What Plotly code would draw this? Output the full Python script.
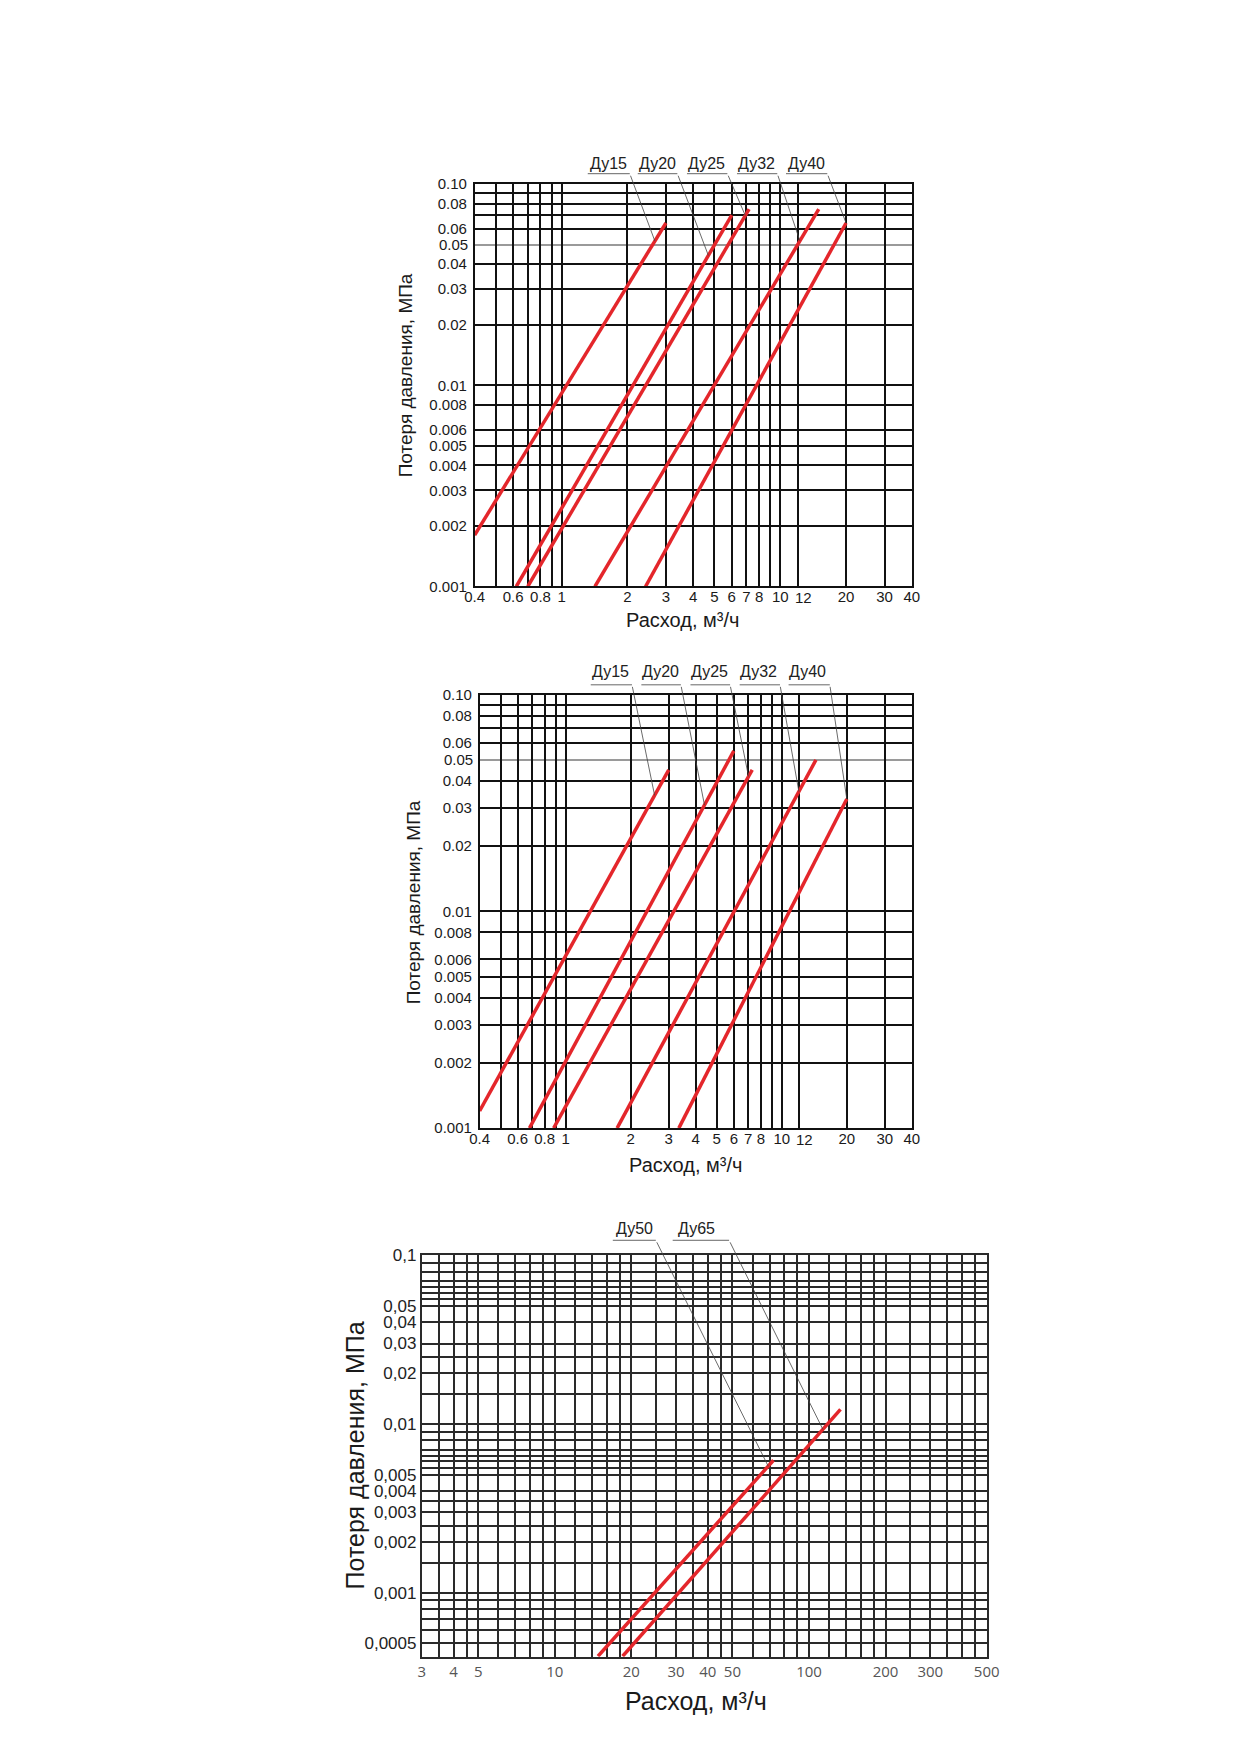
import math
import numpy as np
import plotly.graph_objects as go

W, H = 1239, 1752
FW, FH = 1223, 1736
# page placement of the figure as it shows up in the photograph (offset, scale)
AX, SX = 16.5, 0.983
AY, SY = 15.2, 0.989

# ---------------- upper chart (Ду15..Ду40, first series) ----------------
top_names = ["Ду15", "Ду20", "Ду25", "Ду32", "Ду40"]
top_q_du15 = [0.4, 3.0]
top_dp_du15 = [0.0018, 0.064]
top_q_du20 = [0.62, 6.0]
top_dp_du20 = [0.001, 0.070]
top_q_du25 = [0.70, 7.2]
top_dp_du25 = [0.001, 0.075]
top_q_du32 = [1.42, 15.0]
top_dp_du32 = [0.001, 0.075]
top_q_du40 = [2.42, 20.0]
top_dp_du40 = [0.001, 0.064]
top_leader_q = [2.67, 4.69, 6.92, 12.3, 20.0]

# ---------------- middle chart ----------------
mid_names = ["Ду15", "Ду20", "Ду25", "Ду32", "Ду40"]
mid_q_du15 = [0.4, 3.0]
mid_dp_du15 = [0.0012, 0.045]
mid_q_du20 = [0.68, 6.0]
mid_dp_du20 = [0.001, 0.055]
mid_q_du25 = [0.88, 7.3]
mid_dp_du25 = [0.001, 0.045]
mid_q_du32 = [1.73, 14.4]
mid_dp_du32 = [0.001, 0.050]
mid_q_du40 = [3.34, 20.0]
mid_dp_du40 = [0.001, 0.033]
mid_leader_q = [2.58, 4.39, 7.02, 12.0, 20.0]

# ---------------- lower chart (Ду50, Ду65) ----------------
low_names = ["Ду50", "Ду65"]
low_q_du50 = [14.8, 72.5]
low_dp_du50 = [0.00042, 0.0061]
low_q_du65 = [18.5, 133.0]
low_dp_du65 = [0.00042, 0.0122]
low_leader_q = [69.1, 113.4]

# ---------------- grids / tick labels ----------------
ab_x_grid = [0.4, 0.5, 0.6, 0.7, 0.8, 0.9, 1, 2, 3, 4, 5, 6, 7, 8, 9, 10, 12, 20, 30, 40]
ab_x_text = ["0.4", "", "0.6", "", "0.8", "", "1", "2", "3", "4", "5", "6", "7", "8", "",
             "10", "", "20", "30", "40"]
# "12" sits too close to "10"; it is written separately, nudged right as in the original
ab_x_extra = [12]
ab_x_extra_text = ["12"]
# 0.05 has its own (lighter) grid line
ab_y_grid = [0.001, 0.002, 0.003, 0.004, 0.005, 0.006, 0.008, 0.01, 0.02, 0.03, 0.04,
             0.06, 0.07, 0.08, 0.09, 0.10]
ab_y_text = ["0.001", "0.002", "0.003", "0.004", "0.005", "0.006", "0.008", "0.01", "0.02",
             "0.03", "0.04", "0.06", "", "0.08", "", "0.10"]
ab_y_light = [0.05]
ab_y_light_text = ["0.05"]

c_x_grid = [3, 3.5, 4, 4.5, 5, 6, 7, 8, 9, 10, 12, 14, 16, 18, 20, 25, 30, 35, 40, 45, 50,
            60, 70, 80, 90, 100, 120, 140, 160, 180, 200, 250, 300, 350, 400, 450, 500]
c_x_labels = {3: "3", 4: "4", 5: "5", 10: "10", 20: "20", 30: "30", 40: "40", 50: "50",
              100: "100", 200: "200", 300: "300", 500: "500"}
c_y_grid = [0.0005, 0.0006, 0.0007, 0.0008, 0.0009, 0.001, 0.0015, 0.002, 0.0025, 0.003,
            0.0035, 0.004, 0.005, 0.0055, 0.006, 0.0065, 0.007, 0.008, 0.009, 0.01, 0.015,
            0.02, 0.025, 0.03, 0.04, 0.05, 0.055, 0.06, 0.065, 0.07, 0.08, 0.09, 0.1]
c_y_labels = {0.0005: "0,0005", 0.001: "0,001", 0.002: "0,002", 0.003: "0,003",
              0.004: "0,004", 0.005: "0,005", 0.01: "0,01", 0.02: "0,02", 0.03: "0,03",
              0.04: "0,04", 0.05: "0,05", 0.1: "0,1"}

RED = "#e4262b"
FONT = "Liberation Sans, Arial, sans-serif"

# plot boxes in page pixels: left, right, top, bottom
boxes = {
    "a": (474, 912, 182, 584),
    "b": (479, 912, 692, 1125),
    "c": (421, 987, 1252, 1653),
}
ranges = {
    "a": ([math.log10(0.4), math.log10(40)], [-3, -1]),
    "b": ([math.log10(0.4), math.log10(40)], [-3, -1]),
    "c": ([math.log10(3), math.log10(500)], [-3.38, -1]),
}
axis_ids = {"a": ("x", "y"), "b": ("x2", "y2"), "c": ("x3", "y3")}


def pxx(px):
    return (px - AX) / SX / FW


def pxy(py):
    return 1 - (py - AY) / SY / FH


fig = go.Figure()


def add_series(key, qs, dps, width):
    xa, ya = axis_ids[key]
    for q, dp in zip(qs, dps):
        fig.add_trace(go.Scatter(x=q, y=dp, mode="lines", xaxis=xa, yaxis=ya,
                                 line=dict(color=RED, width=width), hoverinfo="skip",
                                 showlegend=False))


top_q = [top_q_du15, top_q_du20, top_q_du25, top_q_du32, top_q_du40]
top_dp = [top_dp_du15, top_dp_du20, top_dp_du25, top_dp_du32, top_dp_du40]
mid_q = [mid_q_du15, mid_q_du20, mid_q_du25, mid_q_du32, mid_q_du40]
mid_dp = [mid_dp_du15, mid_dp_du20, mid_dp_du25, mid_dp_du32, mid_dp_du40]
low_q = [low_q_du50, low_q_du65]
low_dp = [low_dp_du50, low_dp_du65]

add_series("a", top_q, top_dp, 3.5)
add_series("b", mid_q, mid_dp, 3.5)
add_series("c", low_q, low_dp, 3.5)


def px_to_log(key, px, py):
    # page pixel -> axis (log10) coordinates, used for leader tails only
    l, r, t, b = boxes[key]
    (x0, x1), (y0, y1) = ranges[key]
    return x0 + (px - l) / (r - l) * (x1 - x0), y0 + (b - py) / (b - t) * (y1 - y0)


def add_labels(key, names, qs, dps, leader_q, text_x, text_y, ul_x0, ul_x1, ul_y, size):
    xa, ya = axis_ids[key]
    for i, name in enumerate(names):
        fig.add_annotation(text=name, x=pxx(text_x[i]), y=pxy(text_y[i]), xref="paper",
                           yref="paper", showarrow=False, xanchor="center", yanchor="middle",
                           font=dict(family=FONT, size=size, color="#222"))
        fig.add_shape(type="line", xref="paper", yref="paper", x0=pxx(ul_x0[i]),
                      x1=pxx(ul_x1[i]), y0=pxy(ul_y), y1=pxy(ul_y),
                      line=dict(color="#555", width=0.9))
        # point of the leader on the curve (interpolated in log space)
        lq = math.log10(leader_q[i])
        ldp = np.interp(lq, np.log10(qs[i]), np.log10(dps[i]))
        tx, ty = px_to_log(key, ul_x1[i], ul_y)
        fig.add_annotation(text=" ", x=lq, y=float(ldp), xref=xa, yref=ya, ax=tx, ay=ty,
                           axref=xa, ayref=ya, showarrow=True, arrowhead=0, arrowwidth=0.8,
                           arrowcolor="#444", standoff=0, font=dict(size=1))


add_labels("a", top_names, top_q, top_dp, top_leader_q,
           [608, 657.4, 706.4, 756.5, 806.6], [162] * 5,
           [587.3, 637.4, 686.7, 736.8, 785.9], [629.4, 677.1, 727.2, 777.2, 827.3], 171.7, 16)
add_labels("b", mid_names, mid_q, mid_dp, mid_leader_q,
           [610.3, 659.9, 709.2, 758.1, 807.4], [668.5] * 5,
           [590.3, 641.0, 690.2, 739.5, 788.5], [631.6, 680.6, 729.9, 779.9, 829.8], 682.2, 16)
add_labels("c", low_names, low_q, low_dp, low_leader_q,
           [633.7, 696.0], [1225.5] * 2,
           [612.4, 672.4], [655.5, 728.9], 1237, 16)


def axis(key, horizontal, vals, text, font, gridcolor, gridwidth, linecolor, linewidth,
         standoff=0):
    l, r, t, b = boxes[key]
    xa, ya = axis_ids[key]
    if horizontal:
        dom = [pxx(l), pxx(r)]
        rng = ranges[key][0]
        anchor = ya
    else:
        dom = [pxy(b), pxy(t)]
        rng = ranges[key][1]
        anchor = xa
    return dict(type="log", domain=dom, range=rng, anchor=anchor, tickmode="array",
                tickvals=vals, ticktext=text, showgrid=True, gridcolor=gridcolor,
                gridwidth=gridwidth, showline=True, mirror=True, linecolor=linecolor,
                linewidth=linewidth, ticks="", tickfont=font, zeroline=False,
                tickangle=0, ticklabelstandoff=standoff, fixedrange=True)


f_ab = dict(family=FONT, size=15, color="#1a1a1a")
f_cx = dict(family="Open Sans, sans-serif", size=15, color="#555")
f_cy = dict(family="Liberation Sans Narrow, Liberation Sans, sans-serif", size=17,
            color="#222")

c_x_text = [c_x_labels.get(v, "") for v in c_x_grid]
c_y_text = [c_y_labels.get(v, "") for v in c_y_grid]

ya1 = axis("a", False, ab_y_grid, ab_y_text, f_ab, "#111", 1.6, "#111", 1.6, 3)
ya2 = axis("b", False, ab_y_grid, ab_y_text, f_ab, "#111", 1.6, "#111", 1.6, 3)
for ya in (ya1, ya2):
    ya["minor"] = dict(tickmode="array", tickvals=ab_y_light, showgrid=True,
                       gridcolor="#9a9a9a", gridwidth=1.6, ticks="")

fig.update_layout(
    width=FW, height=FH, margin=dict(l=0, r=0, t=0, b=0),
    paper_bgcolor="white", plot_bgcolor="white", showlegend=False,
    xaxis=axis("a", True, ab_x_grid, ab_x_text, f_ab, "#111", 1.6, "#111", 1.6, -4),
    yaxis=ya1,
    xaxis2=axis("b", True, ab_x_grid, ab_x_text, f_ab, "#111", 1.6, "#111", 1.6, -4),
    yaxis2=ya2,
    xaxis3=axis("c", True, c_x_grid, c_x_text, f_cx, "#2a2a2a", 1.5, "#2a2a2a", 1.8),
    yaxis3=axis("c", False, c_y_grid, c_y_text, f_cy, "#2a2a2a", 1.5, "#2a2a2a", 1.8),
)

for xa, ya in [("x", "y"), ("x2", "y2")]:
    # label of the lighter 0.05 line (a minor grid line carries no label)
    for v, t in zip(ab_y_light, ab_y_light_text):
        fig.add_annotation(text=t, xref=xa + " domain", yref=ya, x=0, y=math.log10(v),
                           xanchor="right", yanchor="middle", xshift=-5, showarrow=False,
                           font=f_ab)
    # the "12" flow label, shifted right of its line so it clears "10"
    for v, t in zip(ab_x_extra, ab_x_extra_text):
        fig.add_annotation(text=t, xref=xa, yref=ya + " domain", x=math.log10(v), y=0,
                           xanchor="center", yanchor="middle", xshift=6, yshift=-11,
                           showarrow=False, font=f_ab)

# axis titles
titles = [
    ("Потеря давления, МПа", 405.6, 372.7, -90, 19),
    ("Расход, м³/ч", 682, 617, 0, 20),
    ("Потеря давления, МПа", 412.7, 899, -90, 19),
    ("Расход, м³/ч", 685, 1162, 0, 20),
    ("Потеря давления, МПа", 354.3, 1451.7, -90, 25),
    ("Расход, м³/ч", 696, 1697, 0, 25),
]
for txt, px, py, ang, sz in titles:
    fig.add_annotation(text=txt, x=pxx(px), y=pxy(py), xref="paper", yref="paper",
                       showarrow=False, textangle=ang, xanchor="center", yanchor="middle",
                       font=dict(family=FONT, size=sz, color="#1a1a1a"))

fig.write_html("out.html")
